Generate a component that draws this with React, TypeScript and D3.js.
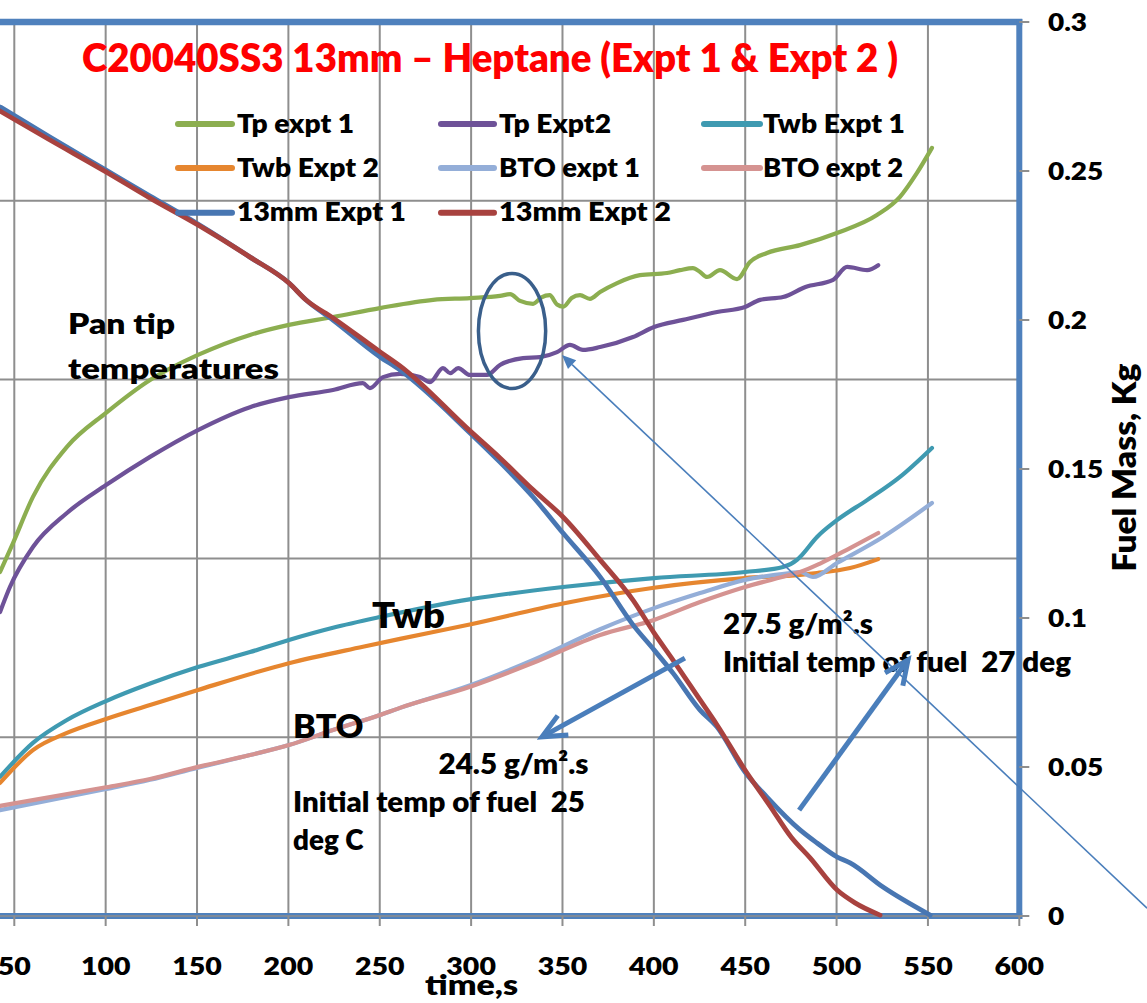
import React from 'react';
import * as d3 from 'd3';

const W = 1147;
const H = 1003;

// ---------- axis values ----------
const timeTicks = [50, 100, 150, 200, 250, 300, 350, 400, 450, 500, 550, 600];
const tempGrid = [0, 50, 100, 150, 200, 250];
const massTicks = [0, 0.05, 0.1, 0.15, 0.2, 0.25, 0.3];
const massTickLabels = ['0', '0.05', '0.1', '0.15', '0.2', '0.25', '0.3'];

// ---------- series (time s, temperature on hidden left axis) ----------
const tpExpt1: [number, number][] = [
  [42.2, 96.2], [49.3, 104.3], [60.2, 117.2], [78.8, 131.2], [100.2, 140.7], [124.3, 149.9],
  [150.5, 156.9], [179.0, 162.5], [200.3, 165.3], [224.4, 167.5], [250.1, 170.0], [279.2, 172.3],
  [299.4, 172.8], [315.8, 173.4], [321.3, 173.9], [326.8, 172.0], [333.9, 171.2], [338.5, 173.0],
  [343.0, 173.6], [347.0, 171.0], [350.5, 170.4], [355.0, 172.8], [359.6, 173.6], [365.0, 172.6],
  [370.6, 174.5], [379.9, 177.0], [392.4, 179.2], [407.2, 179.8], [414.3, 180.6], [421.4, 181.2],
  [425.3, 180.1], [429.1, 178.7], [436.2, 180.6], [445.5, 178.1], [452.6, 182.9], [461.9, 185.4],
  [480.0, 187.6], [500.2, 191.0], [522.1, 196.0], [534.7, 201.1], [544.0, 207.8], [552.2, 214.8],
];
const tpExpt2: [number, number][] = [
  [42.2, 85.0], [47.6, 92.0], [60.2, 103.2], [78.8, 112.7], [100.2, 120.5], [124.3, 128.4],
  [150.5, 135.9], [179.0, 142.3], [200.3, 145.1], [224.4, 147.1], [240.8, 149.0], [244.6, 147.6],
  [251.8, 150.7], [261.1, 151.6], [272.0, 150.7], [277.5, 149.3], [284.6, 153.2], [288.5, 151.8],
  [292.9, 153.2], [299.4, 151.3], [308.7, 151.3], [315.8, 154.1], [328.4, 156.0], [337.7, 156.3],
  [347.0, 157.7], [354.1, 159.7], [361.2, 158.3], [370.6, 159.1], [388.6, 161.9], [400.1, 164.7],
  [416.0, 166.7], [434.6, 168.9], [449.9, 170.3], [458.1, 172.3], [470.7, 173.1], [483.0, 175.9],
  [498.1, 177.9], [505.8, 181.5], [516.7, 180.6], [522.8, 182.0],
];
const twbExpt1: [number, number][] = [
  [42.2, 38.9], [60.2, 48.4], [78.8, 54.8], [100.2, 60.1], [124.3, 65.0], [150.5, 69.6],
  [179.0, 73.8], [200.3, 77.2], [224.4, 80.6], [250.1, 83.6], [299.9, 88.6], [350.3, 92.0],
  [400.1, 94.5], [449.9, 96.2], [470.7, 97.6], [478.3, 99.6], [480.0, 100.4], [489.3, 106.0],
  [500.2, 110.7], [516.7, 116.3], [534.7, 122.8], [552.2, 130.9],
];
const twbExpt2: [number, number][] = [
  [42.2, 37.2], [60.2, 46.4], [78.8, 51.2], [100.2, 55.1], [124.3, 59.0], [150.5, 63.2],
  [200.3, 70.7], [240.8, 75.3], [261.1, 77.5], [299.9, 81.6], [350.3, 87.4], [400.1, 91.8],
  [449.9, 94.5], [480.0, 95.4], [489.3, 95.9], [507.4, 97.3], [522.8, 99.8],
];
const btoExpt1: [number, number][] = [
  [42.2, 29.6], [100.2, 35.5], [124.3, 38.1], [150.5, 41.5], [179.0, 45.0], [200.3, 47.8],
  [224.4, 52.0], [250.1, 56.2], [261.1, 58.2], [299.9, 64.6], [334.0, 71.6],
  [370.6, 80.2], [400.1, 86.1], [425.3, 90.3], [449.9, 94.0], [474.5, 95.9], [480.0, 96.2],
  [487.1, 94.8], [500.2, 98.7], [525.4, 106.0], [552.2, 115.5],
];
const btoExpt2: [number, number][] = [
  [42.2, 30.8], [100.2, 36.0], [124.3, 38.3], [150.5, 41.7], [179.0, 45.0], [200.3, 47.8],
  [224.4, 52.0], [250.1, 56.2], [261.1, 58.2], [299.9, 64.2], [334.0, 70.8],
  [370.6, 78.6], [400.1, 82.8], [425.3, 87.8], [449.9, 92.0], [474.5, 95.4], [480.0, 96.2],
  [491.5, 98.7], [507.4, 102.9], [522.8, 107.1],
];
// ---------- series (time s, fuel mass kg on right axis) ----------
const mass13Expt1: [number, number][] = [
  [42.2, 0.2715], [69.5, 0.2614], [100.2, 0.2503], [124.3, 0.2416], [150.5, 0.2322], [179.0, 0.2211],
  [200.3, 0.2124], [209.7, 0.2067], [224.4, 0.2000], [250.2, 0.1876], [261.1, 0.1832], [299.4, 0.1621],
  [315.8, 0.1523], [333.9, 0.1406], [350.3, 0.1285], [370.6, 0.1138], [388.6, 0.0977], [400.1, 0.0893],
  [410.5, 0.0815], [425.3, 0.0691], [434.6, 0.0634], [449.9, 0.0483], [461.9, 0.0399], [480.0, 0.0289],
  [489.3, 0.0245], [500.3, 0.0198], [507.4, 0.0178], [525.4, 0.0097], [551.2, 0.0003],
];
const mass13Expt2: [number, number][] = [
  [42.2, 0.2701], [69.5, 0.2604], [100.2, 0.2497], [124.3, 0.2409], [150.5, 0.2319], [179.0, 0.2211],
  [200.3, 0.2124], [209.7, 0.2067], [224.4, 0.2007], [250.2, 0.1893], [261.1, 0.1846], [299.4, 0.1628],
  [315.8, 0.1537], [333.9, 0.1430], [350.3, 0.1339], [370.6, 0.1195], [388.6, 0.1060], [400.1, 0.0950],
  [410.5, 0.0859], [425.3, 0.0725], [434.6, 0.0641], [449.9, 0.0490], [463.6, 0.0369], [475.1, 0.0265],
  [485.5, 0.0195], [500.3, 0.0087], [510.1, 0.0044], [523.8, 0.0003],
];

const seriesNames = ['Tp expt 1', 'Tp Expt2', 'Twb Expt 1', 'Twb Expt 2', 'BTO expt 1', 'BTO expt 2', '13mm Expt 1', '13mm Expt 2'];
const seriesData = [tpExpt1, tpExpt2, twbExpt1, twbExpt2, btoExpt1, btoExpt2, mass13Expt1, mass13Expt2];
const seriesAxis = ['T', 'T', 'T', 'T', 'T', 'T', 'M', 'M'];
const seriesColors = ['#8CAE50', '#6E5298', '#3F9AB1', '#E6862F', '#94AED8', '#D59391', '#4876B2', '#A8423F'];

// ---------- annotations (data coordinates: time, temperature) ----------
const ellipseCenter: [number, number] = [322.4, 163.6];
const ellipseRadii: [number, number] = [18.4, 16.1];
const thinArrow: [number, number][] = [[669.9, 2.2], [349.7, 156.9]];
const thickArrow1: [number, number][] = [[417.0, 72.1], [338.8, 50.1]];
const thickArrow2: [number, number][] = [[479.5, 29.6], [539.1, 71.6]];

const FONT = "Lato, 'Open Sans', 'DejaVu Sans', sans-serif";
const WEIGHT = 800;
const BORDER = '#4F81BD';
const GRID = '#8E8E8E';

const x = d3.scaleLinear().domain([50, 600]).range([14.3, 1019.3]);
const yT = d3.scaleLinear().domain([0, 250]).range([916, 22]);
const yM = d3.scaleLinear().domain([0, 0.3]).range([916, 22]);

function Txt(props: { x: number; y: number; size: number; w?: number; anchor?: string; fill?: string; children: React.ReactNode; sx?: number; rotate?: number }) {
  const { x: px, y: py, size, w, anchor = 'start', fill = '#000', children, sx, rotate } = props;
  let transform = `translate(${px},${py})`;
  if (rotate) transform += ` rotate(${rotate})`;
  if (sx) transform += ` scale(${sx},1)`;
  return (
    <text
      transform={transform}
      fontFamily={FONT}
      fontWeight={WEIGHT}
      fontSize={size}
      fill={fill}
      textAnchor={anchor as any}
      style={{ whiteSpace: 'pre' }}
      {...(w ? { textLength: w, lengthAdjust: 'spacingAndGlyphs' } : {})}
    >
      {children}
    </text>
  );
}

function arrowGeom(a: [number, number][]) {
  const x0 = x(a[0][0]), y0 = yT(a[0][1]);
  const x1 = x(a[1][0]), y1 = yT(a[1][1]);
  const dx = x1 - x0, dy = y1 - y0;
  const len = Math.hypot(dx, dy);
  const ux = dx / len, uy = dy / len;
  const nx = -uy, ny = ux;
  return { x0, y0, x1, y1, ux, uy, nx, ny };
}

export default function App() {
  const lineT = d3.line<[number, number]>().x(d => x(d[0])).y(d => yT(d[1])).curve(d3.curveMonotoneX);
  const lineM = d3.line<[number, number]>().x(d => x(d[0])).y(d => yM(d[1])).curve(d3.curveMonotoneX);

  const legendLineX1 = [178, 441, 704];
  const legendLineX2 = [232, 494, 760];
  const legendTextX = [237, 499, 763];
  const legendRowY = [124, 168, 212.7];
  const legendTextW = [117, 112, 142, 142, 141, 140, 169, 172];

  const thin = arrowGeom(thinArrow);
  const headLen = 14, headHalf = 6;
  const thinBaseX = thin.x1 - thin.ux * headLen, thinBaseY = thin.y1 - thin.uy * headLen;

  const thickArrows = [thickArrow1, thickArrow2].map(arrowGeom);

  return (
    <svg width={W} height={H} style={{ position: 'absolute', left: 0, top: 0, background: '#fff' }}>
      <rect x={0} y={0} width={W} height={H} fill="#fff" />
      {/* gridlines */}
      {timeTicks.filter(t => t < 600).map(t => (
        <line key={'vg' + t} x1={x(t)} x2={x(t)} y1={yT(250)} y2={yT(0)} stroke={GRID} strokeWidth={2} />
      ))}
      {tempGrid.filter(v => v > 0 && v < 250).map(v => (
        <line key={'hg' + v} x1={0} x2={x(600)} y1={yT(v)} y2={yT(v)} stroke={GRID} strokeWidth={2} />
      ))}
      {/* plot border */}
      <line x1={0} x2={x(600) + 3} y1={yT(250)} y2={yT(250)} stroke={BORDER} strokeWidth={6.5} />
      <line x1={x(600)} x2={x(600)} y1={yT(250) - 3} y2={yT(0) + 3} stroke={BORDER} strokeWidth={6} />
      <line x1={0} x2={x(600) + 3} y1={yT(0)} y2={yT(0)} stroke={BORDER} strokeWidth={6} />
      <line x1={0} x2={x(600)} y1={yT(0)} y2={yT(0)} stroke={GRID} strokeWidth={1.5} />
      {/* bottom ticks */}
      {timeTicks.map(t => (
        <line key={'bt' + t} x1={x(t)} x2={x(t)} y1={yT(0)} y2={yT(0) + 10} stroke={GRID} strokeWidth={2} />
      ))}
      {/* right ticks */}
      {massTicks.map(m => (
        <line key={'rt' + m} x1={x(600)} x2={x(600) + 10} y1={yM(m)} y2={yM(m)} stroke={GRID} strokeWidth={2} />
      ))}

      {/* series */}
      {seriesData.map((d, i) => (
        <path
          key={seriesNames[i]}
          d={(seriesAxis[i] === 'T' ? lineT : lineM)(d) || ''}
          fill="none"
          stroke={seriesColors[i]}
          strokeWidth={seriesAxis[i] === 'T' ? 4.2 : 4.8}
          strokeLinejoin="round"
          strokeLinecap="round"
        />
      ))}

      {/* title */}
      <Txt x={82} y={72} size={39} w={816} fill="#FF0000">C20040SS3 13mm – Heptane (Expt 1 &amp; Expt 2 )</Txt>

      {/* legend */}
      {seriesNames.map((n, i) => {
        const r = Math.floor(i / 3), c = i % 3;
        return (
          <g key={'lg' + n}>
            <line x1={legendLineX1[c]} x2={legendLineX2[c]} y1={legendRowY[r]} y2={legendRowY[r]} stroke={seriesColors[i]} strokeWidth={6} strokeLinecap="round" />
            <Txt x={legendTextX[c]} y={legendRowY[r] + 8.7} size={26} w={legendTextW[i]}>{n}</Txt>
          </g>
        );
      })}

      {/* x tick labels */}
      {timeTicks.map(t => (
        <Txt key={'xl' + t} x={x(t)} y={975} size={25} anchor="middle" sx={1.14}>{String(t)}</Txt>
      ))}
      {/* right tick labels */}
      {massTicks.map((m, i) => (
        <Txt key={'yl' + m} x={1048} y={yM(m) + 8.7} size={24.5} sx={1.14}>{massTickLabels[i]}</Txt>
      ))}

      {/* axis titles */}
      <Txt x={471.5} y={995} size={29} anchor="middle" w={93}>time,s</Txt>
      <Txt x={1136} y={467.5} size={32} anchor="middle" w={208} rotate={-90}>Fuel Mass, Kg</Txt>

      {/* annotations text */}
      <Txt x={68} y={334} size={29} w={107}>Pan tip</Txt>
      <Txt x={68} y={379} size={29} w={211}>temperatures</Txt>
      <Txt x={372} y={628} size={36} w={73}>Twb</Txt>
      <Txt x={293} y={738} size={32} w={70.5}>BTO</Txt>
      <Txt x={438.5} y={774} size={28} w={150}>24.5 g/m².s</Txt>
      <Txt x={293} y={812} size={28} w={292}>{'Initial temp of fuel  25'}</Txt>
      <Txt x={293} y={850} size={28} w={70.5}>deg C</Txt>
      <Txt x={723} y={633.5} size={28} w={150}>27.5 g/m².s</Txt>
      <Txt x={723} y={671.5} size={28} w={348}>{'Initial temp of fuel  27 deg'}</Txt>

      {/* ellipse */}
      <ellipse
        cx={x(ellipseCenter[0])}
        cy={yT(ellipseCenter[1])}
        rx={x(ellipseCenter[0] + ellipseRadii[0]) - x(ellipseCenter[0])}
        ry={yT(ellipseCenter[1]) - yT(ellipseCenter[1] + ellipseRadii[1])}
        fill="none"
        stroke="#3A5F8B"
        strokeWidth={3.5}
      />

      {/* thin arrow */}
      <line x1={thin.x0} y1={thin.y0} x2={thinBaseX} y2={thinBaseY} stroke="#4A7EBB" strokeWidth={1.6} />
      <path
        d={`M${thin.x1},${thin.y1}L${thinBaseX + thin.nx * headHalf},${thinBaseY + thin.ny * headHalf}L${thinBaseX - thin.nx * headHalf},${thinBaseY - thin.ny * headHalf}Z`}
        fill="#4A7EBB"
      />

      {/* thick arrows */}
      {thickArrows.map((a, i) => {
        const L = 24, hw = 11;
        const bx = a.x1 - a.ux * L, by = a.y1 - a.uy * L;
        return (
          <g key={'ta' + i} stroke="#4A7EBB" strokeWidth={5} fill="none" strokeLinecap="butt" strokeLinejoin="miter">
            <line x1={a.x0} y1={a.y0} x2={a.x1 - a.ux * 2} y2={a.y1 - a.uy * 2} />
            <path d={`M${bx + a.nx * hw},${by + a.ny * hw}L${a.x1},${a.y1}L${bx - a.nx * hw},${by - a.ny * hw}`} />
          </g>
        );
      })}
    </svg>
  );
}
